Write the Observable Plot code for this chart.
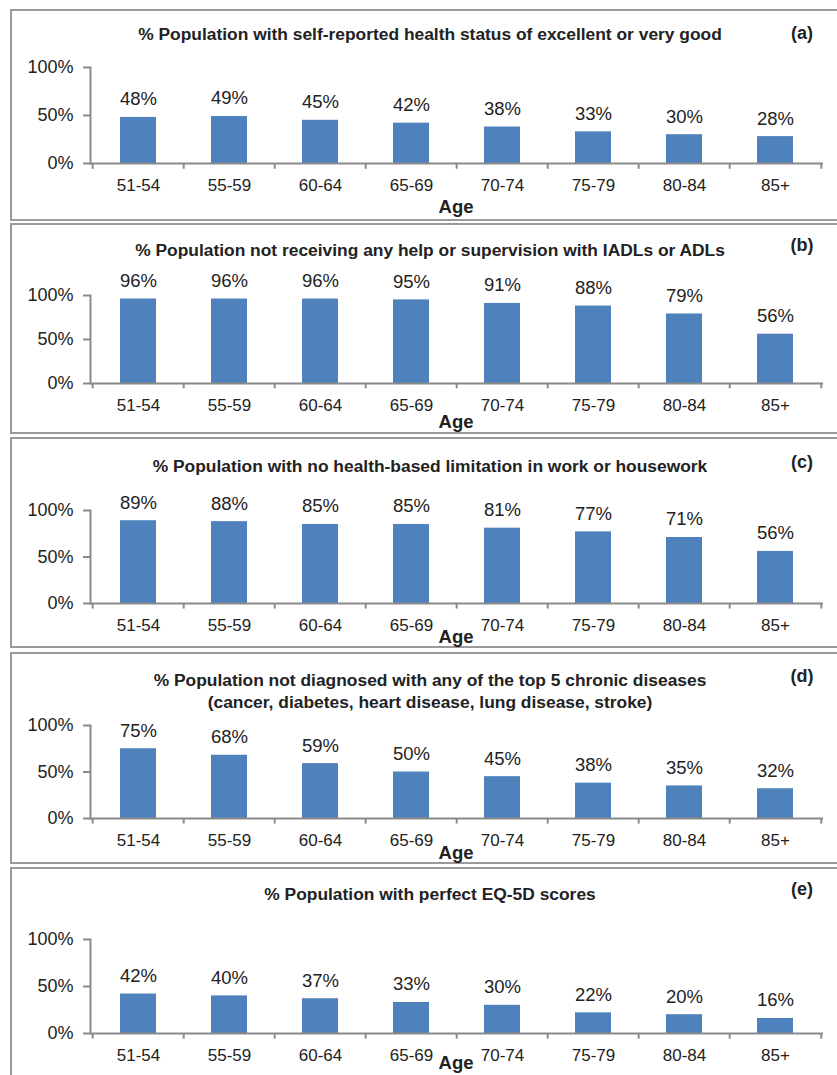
<!DOCTYPE html>
<html><head><meta charset="utf-8">
<script src="https://cdn.jsdelivr.net/npm/d3@7"></script>
<script src="https://cdn.jsdelivr.net/npm/@observablehq/plot@0.6"></script>
<style>
body{margin:0;background:#fff;font-family:"Liberation Sans",Arial,sans-serif;}
#root{position:relative;width:837px;height:1075px;overflow:hidden;background:#fff;}
.panel{position:absolute;left:10px;width:850px;border:2px solid #9a9a9a;box-sizing:border-box;}
.chart{position:absolute;left:0;}
.title{position:absolute;font-weight:bold;font-size:17.4px;color:#222;text-align:center;transform:translate(-50%,-50%);white-space:nowrap;line-height:22px;}
.tag{position:absolute;font-weight:bold;font-size:18px;color:#222;transform:translate(-50%,-50%);}
.age{position:absolute;font-weight:bold;font-size:18.5px;color:#222;transform:translate(-50%,-50%);line-height:20px;}
</style></head>
<body><div id="root"></div>
<script>
const ages = ["51-54","55-59","60-64","65-69","70-74","75-79","80-84","85+"];
const selfRatedHealth = [48,49,45,42,38,33,30,28];
const noHelpIADL = [96,96,96,95,91,88,79,56];
const noLimitation = [89,88,85,85,81,77,71,56];
const noChronicDisease = [75,68,59,50,45,38,35,32];
const perfectEQ5D = [42,40,37,33,30,22,20,16];
const titles = [
  "% Population with self-reported health status of excellent or very good",
  "% Population not receiving any help or supervision with IADLs or ADLs",
  "% Population with no health-based limitation in work or housework",
  "% Population not diagnosed with any of the top 5 chronic diseases<br>(cancer, diabetes, heart disease, lung disease, stroke)",
  "% Population with perfect EQ-5D scores"
];
const tags = ["(a)","(b)","(c)","(d)","(e)"];
const yTicks = [0,50,100];
const series = [selfRatedHealth, noHelpIADL, noLimitation, noChronicDisease, perfectEQ5D];

// layout (page pixels)
const layout = [
  {top:9,  bottom:221, titleY:34,  tagY:33,  y100:67,  y0:163, ageY:207},
  {top:223,bottom:434, titleY:250, tagY:245, y100:295, y0:383, ageY:422},
  {top:437,bottom:648, titleY:466, tagY:462, y100:510, y0:603, ageY:637},
  {top:652,bottom:864, titleY:691, tagY:676, y100:725, y0:818, ageY:853},
  {top:867,bottom:1090,titleY:894, tagY:889, y100:939, y0:1033,ageY:1063}
];
const W = 837, ML = 90, MR = 14;
const step = (W - ML - MR) / ages.length;
const root = document.getElementById("root");

series.forEach((vals, k) => {
  const L = layout[k];
  const panel = document.createElement("div");
  panel.className = "panel";
  panel.style.top = L.top + "px";
  panel.style.height = (L.bottom - L.top) + "px";
  root.appendChild(panel);

  const data = ages.map((a, i) => ({age: a, value: vals[i]}));
  const mt = L.y100 - L.top, ph = L.y0 - L.y100, mb = 40;
  const chart = Plot.plot({
    width: W, height: mt + ph + mb,
    marginLeft: ML, marginRight: MR, marginTop: mt, marginBottom: mb,
    style: {fontFamily: '"Liberation Sans", Arial, sans-serif', color: "#222", background: "transparent", overflow: "visible"},
    x: {domain: ages, paddingInner: 0.6, paddingOuter: 0.3, axis: null},
    y: {domain: [0, 100], axis: null},
    marks: [
      Plot.barY(data, {x: "age", y: "value", fill: "#4F81BD"}),
      Plot.ruleY([0], {stroke: "#8a8a8a", strokeWidth: 2}),
      Plot.frame({anchor: "left", stroke: "#8a8a8a", strokeWidth: 2}),
      Plot.ruleX(ages, {x: d => d, dx: -step / 2, y1: 0, y2: -6, stroke: "#8a8a8a", strokeWidth: 2}),
      Plot.ruleX([ages[ages.length - 1]], {x: d => d, dx: step / 2, y1: 0, y2: -6, stroke: "#8a8a8a", strokeWidth: 2}),
      Plot.axisY({ticks: yTicks, tickFormat: d => d + "%", tickSize: 7, tickPadding: 10, stroke: "#8a8a8a", strokeWidth: 2, fill: "#222", fontSize: 18, label: null}),
      Plot.axisX({tickSize: 0, tickPadding: 15, fill: "#222", fontSize: 17, label: null}),
      Plot.text(data, {x: "age", y: "value", text: d => d.value + "%", dy: -18, fontSize: 18.5, fill: "#222"})
    ]
  });
  chart.classList.add("chart");
  chart.style.top = L.top + "px";
  root.appendChild(chart);

  const t = document.createElement("div");
  t.className = "title"; t.innerHTML = titles[k];
  t.style.left = "430px"; t.style.top = L.titleY + "px";
  root.appendChild(t);
  const g = document.createElement("div");
  g.className = "tag"; g.textContent = tags[k];
  g.style.left = "802px"; g.style.top = L.tagY + "px";
  root.appendChild(g);
  const a = document.createElement("div");
  a.className = "age"; a.textContent = "Age";
  a.style.left = "456px"; a.style.top = L.ageY + "px";
  root.appendChild(a);
});
</script></body></html>
